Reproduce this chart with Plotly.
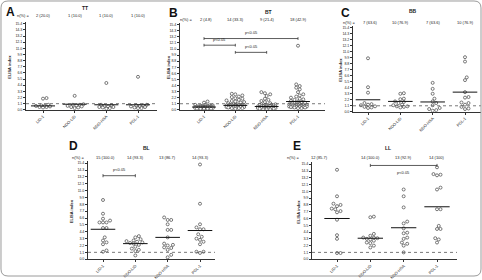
import math
import plotly.graph_objects as go

W, H = 482, 280
categories = ["LID-1", "NDO-LID", "NDO-HSA", "PGL-1"]
y_ticks = [round(1.1 * i, 1) for i in range(15)]
cutoff = 1.1

# ---- data (ELISA index per antigen) ----
tt_vals = [
    [2.1, 2.0, 0.9, 0.8, 0.7, 0.7, 0.6, 0.5, 0.5, 0.4],
    [2.5, 1.0, 0.9, 0.9, 0.8, 0.7, 0.6, 0.5, 0.4, 0.3],
    [4.8, 0.9, 0.8, 0.7, 0.6, 0.5, 0.5, 0.4, 0.3, 0.2],
    [5.9, 0.9, 0.8, 0.8, 0.7, 0.6, 0.5, 0.4, 0.3, 0.3],
]
tt_lines = [0.7, 1.0, 0.9, 0.9]
tt_n = ["2 (20.0)", "1 (10.0)", "1 (10.0)", "1 (10.0)"]

bt_vals = [
    [1.5, 1.3, 0.9, 0.8, 0.8, 0.7, 0.7, 0.7, 0.6, 0.6, 0.6, 0.6, 0.6, 0.5, 0.5, 0.5, 0.5, 0.5, 0.5, 0.5, 0.5,
     0.4, 0.4, 0.4, 0.4, 0.4, 0.4, 0.4, 0.4, 0.4, 0.3, 0.3, 0.3, 0.3, 0.3, 0.3, 0.3, 0.2, 0.2, 0.2, 0.2, 0.2],
    [2.9, 2.8, 2.6, 2.4, 2.3, 2.1, 2.0, 1.8, 1.7, 1.6, 1.5, 1.4, 1.3, 1.2, 1.0, 1.0, 0.9, 0.9, 0.9, 0.8, 0.8,
     0.8, 0.8, 0.7, 0.7, 0.7, 0.7, 0.6, 0.6, 0.6, 0.6, 0.5, 0.5, 0.5, 0.5, 0.4, 0.4, 0.4, 0.3, 0.3, 0.3, 0.2],
    [3.2, 3.0, 2.8, 2.5, 2.0, 1.8, 1.6, 1.4, 1.2, 1.0, 1.0, 0.9, 0.9, 0.8, 0.8, 0.8, 0.7, 0.7, 0.7, 0.6, 0.6,
     0.6, 0.6, 0.5, 0.5, 0.5, 0.5, 0.4, 0.4, 0.4, 0.4, 0.3, 0.3, 0.3, 0.3, 0.2, 0.2, 0.2, 0.2, 0.1, 0.1, 0.1],
    [11.6, 4.6, 4.3, 4.0, 3.7, 3.2, 2.8, 2.6, 2.4, 2.2, 2.0, 1.9, 1.8, 1.6, 1.5, 1.4, 1.3, 1.2, 1.0, 1.0, 0.9,
     0.9, 0.9, 0.8, 0.8, 0.8, 0.7, 0.7, 0.7, 0.7, 0.6, 0.6, 0.6, 0.6, 0.5, 0.5, 0.5, 0.5, 0.4, 0.4, 0.3, 0.3],
]
bt_lines = [0.5, 0.8, 0.6, 1.5]
bt_n = ["2 (4.8)", "14 (33.3)", "9 (21.4)", "18 (42.9)"]

bb_vals = [
    [9.8, 4.5, 3.5, 1.6, 1.4, 1.3, 1.2, 1.0, 0.9, 0.8, 0.7],
    [3.4, 3.3, 2.4, 2.3, 1.9, 1.8, 1.6, 1.3, 1.2, 1.0, 1.0, 0.9, 0.8],
    [5.3, 4.2, 3.3, 2.4, 1.9, 1.6, 1.2, 0.7, 0.5, 0.3, 0.2],
    [10.0, 9.2, 6.3, 5.8, 3.6, 2.7, 2.6, 1.7, 1.6, 1.3, 0.9, 0.6, 0.5],
]
bb_lines = [2.2, 1.9, 1.8, 3.6]
bb_n = ["7 (63.6)", "10 (76.9)", "7 (63.6)", "10 (76.9)"]

bl_vals = [
    [9.5, 7.3, 6.5, 6.2, 5.9, 5.9, 5.9, 5.0, 5.0, 3.5, 3.0, 2.7, 2.4, 1.4, 1.2],
    [3.7, 3.5, 3.2, 3.0, 2.9, 2.8, 2.7, 2.6, 2.5, 2.3, 2.0, 1.7, 1.5, 1.3, 0.6],
    [6.7, 6.3, 6.3, 5.6, 4.7, 4.7, 3.5, 2.5, 2.3, 2.2, 1.9, 1.8, 1.5, 0.7, 0.3],
    [15.2, 8.9, 5.6, 5.1, 4.8, 4.8, 4.0, 3.6, 3.3, 3.1, 2.8, 2.4, 1.2, 1.2, 1.0],
]
bl_lines = [4.8, 2.5, 3.5, 4.6]
bl_n = ["15 (100.0)", "14 (93.3)", "13 (86.7)", "14 (93.3)"]

ll_vals = [
    [14.5, 10.2, 9.0, 8.8, 8.6, 8.2, 8.1, 7.8, 7.6, 6.4, 3.9, 3.3, 1.0, 1.0],
    [6.9, 6.8, 4.1, 3.8, 3.5, 3.5, 3.4, 3.3, 3.2, 3.0, 2.7, 2.6, 2.2, 1.9],
    [11.3, 10.2, 8.4, 6.1, 5.8, 5.0, 4.3, 4.2, 3.5, 3.3, 2.7, 2.5, 2.2, 1.1],
    [14.9, 13.8, 13.7, 13.6, 11.6, 11.3, 8.1, 8.1, 5.4, 4.9, 4.9, 3.4, 3.2, 2.7],
]
ll_lines = [6.6, 3.4, 5.1, 8.5]
ll_n = ["12 (85.7)", "14 (100.0)", "13 (92.9)", "14 (100)"]

# brackets: (from category, to category, y level)
bt_brackets = [(0, 3, 12.9), (0, 1, 11.7), (1, 2, 10.4)]
bl_brackets = [(0, 1, 13.4)]
ll_brackets = [(1, 3, 15.2)]

# ---- layout geometry (pixels) ----
panels = [
    dict(letter="A", title="TT", vals=tt_vals, lines=tt_lines, n=tt_n, br=[],
         xl=26, xr=157, c0=43, c3=138, y0=111, ytop=24, letter_xy=(4, 12), title_xy=(85, 8),
         row_y=16, nlab_x=23, ytitle_x=10, first_shift=0),
    dict(letter="B", title="BT", vals=bt_vals, lines=bt_lines, n=bt_n, br=bt_brackets,
         xl=180, xr=325, c0=204, c3=298, y0=111, ytop=25, letter_xy=(167, 13), title_xy=(268, 12),
         row_y=20, nlab_x=186, ytitle_x=168, first_shift=2),
    dict(letter="C", title="BB", vals=bb_vals, lines=bb_lines, n=bb_n, br=[],
         xl=353, xr=481, c0=368, c3=465, y0=113, ytop=28, letter_xy=(339, 13), title_xy=(413, 11),
         row_y=23, nlab_x=349, ytitle_x=341, first_shift=2),
    dict(letter="D", title="BL", vals=bl_vals, lines=bl_lines, n=bl_n, br=bl_brackets,
         xl=88, xr=215, c0=103, c3=200, y0=262, ytop=165, letter_xy=(67, 148), title_xy=(146, 150),
         row_y=159, nlab_x=78, ytitle_x=71, first_shift=2),
    dict(letter="E", title="LL", vals=ll_vals, lines=ll_lines, n=ll_n, br=ll_brackets,
         xl=312, xr=457, c0=337, c3=437, y0=262, ytop=166, letter_xy=(291, 148), title_xy=(388, 150),
         row_y=159, nlab_x=293, ytitle_x=299, first_shift=-18),
]

YMAX = 15.8
FONT = "Liberation Sans, Arial, sans-serif"


def swarm(vals, ppy, ppx, d=3.2, maxw=10.0):
    order = sorted(range(len(vals)), key=lambda i: vals[i])
    placed = []
    xs = [0.0] * len(vals)
    for i in order:
        y = vals[i] * ppy
        best, bestd = 0.0, -1
        for k in range(0, 60):
            off = ((k + 1) // 2) * (d * 0.55) * (1 if k % 2 else -1)
            if abs(off) > maxw:
                continue
            md = min([math.hypot(off - px, y - py) for px, py in placed] or [99])
            if md >= d:
                best = off
                break
            if md > bestd:
                bestd, best = md, off
        placed.append((best, y))
        xs[i] = best / ppx
    return xs


fig = go.Figure()
shapes = []
annotations = []
layout_axes = {}

for idx, p in enumerate(panels, start=1):
    xa = "x" if idx == 1 else f"x{idx}"
    ya = "y" if idx == 1 else f"y{idx}"
    sp = (p["c3"] - p["c0"]) / 3.0
    xr0 = -(p["c0"] - p["xl"]) / sp
    xr1 = 3 + (p["xr"] - p["c3"]) / sp
    ppy = (p["y0"] - p["ytop"]) / 15.4
    top_px = p["y0"] - ppy * YMAX
    layout_axes["xaxis" if idx == 1 else f"xaxis{idx}"] = dict(
        domain=[p["xl"] / W, p["xr"] / W], anchor=ya, range=[xr0, xr1],
        tickvals=[0, 1, 2, 3], ticktext=categories, tickangle=-45,
        tickfont=dict(size=4, color="#222", family=FONT), ticks="outside", ticklen=2,
        tickwidth=0.6, tickcolor="#333", showline=True, linecolor="#333", linewidth=0.8,
        showgrid=False, zeroline=False, fixedrange=True)
    layout_axes["yaxis" if idx == 1 else f"yaxis{idx}"] = dict(
        domain=[1 - p["y0"] / H, 1 - top_px / H], anchor=xa, range=[0, YMAX],
        tickvals=y_ticks, ticktext=[f"{v:.1f}" for v in y_ticks],
        tickfont=dict(size=3.6, color="#222", family=FONT), ticks="outside", ticklen=2,
        tickwidth=0.6, tickcolor="#333", showline=True, linecolor="#333", linewidth=0.8,
        showgrid=False, zeroline=False, fixedrange=True)

    # points
    for ci, vals in enumerate(p["vals"]):
        offs = swarm(vals, ppy, sp)
        fig.add_trace(go.Scatter(
            x=[ci + o for o in offs], y=vals, mode="markers", xaxis=xa, yaxis=ya,
            marker=dict(symbol="circle", size=3.0, color="white",
                        line=dict(color="#444", width=0.7)),
            showlegend=False, hoverinfo="y"))
        # center line
        shapes.append(dict(type="line", xref=xa, yref=ya, x0=ci - 0.38, x1=ci + 0.38,
                           y0=p["lines"][ci], y1=p["lines"][ci],
                           line=dict(color="#111", width=1)))
        annotations.append(dict(text=p["n"][ci], xref=xa, yref="paper", x=ci,
                                xshift=p["first_shift"] if ci == 0 else 0,
                                y=1 - p["row_y"] / H, showarrow=False,
                                font=dict(size=4.0, color="#222", family=FONT),
                                xanchor="center", yanchor="middle"))
    # cutoff
    shapes.append(dict(type="line", xref=xa, yref=ya, x0=xr0, x1=xr1, y0=cutoff, y1=cutoff,
                       line=dict(color="#555", width=0.8, dash="dot")))
    # brackets
    cap = 0.25
    for a, b, yv in p["br"]:
        shapes.append(dict(type="line", xref=xa, yref=ya, x0=a, x1=b, y0=yv, y1=yv,
                           line=dict(color="#333", width=0.8)))
        for xx in (a, b):
            shapes.append(dict(type="line", xref=xa, yref=ya, x0=xx, x1=xx, y0=yv - cap,
                               y1=yv + cap, line=dict(color="#333", width=0.8)))
        top = yv > 14.5
        annotations.append(dict(text="p<0.05", xref=xa, yref=ya, x=(a + b) / 2,
                                y=yv - 0.4 if top else yv + 0.3, showarrow=False,
                                font=dict(size=4.0, color="#222", family=FONT),
                                xanchor="center", yanchor="top" if top else "bottom"))
    # labels
    lx, ly = p["letter_xy"]
    annotations.append(dict(text=f"<b>{p['letter']}</b>", xref="paper", yref="paper",
                            x=lx / W, y=1 - ly / H, showarrow=False, xanchor="left",
                            yanchor="middle", font=dict(size=12, color="#111", family=FONT)))
    tx, ty = p["title_xy"]
    annotations.append(dict(text=f"<b>{p['title']}</b>", xref="paper", yref="paper",
                            x=tx / W, y=1 - ty / H, showarrow=False, xanchor="center",
                            yanchor="middle", font=dict(size=5, color="#222", family=FONT)))
    annotations.append(dict(text="n(%) =", xref="paper", yref="paper",
                            x=p["nlab_x"] / W, y=1 - p["row_y"] / H, showarrow=False,
                            xanchor="center", yanchor="middle",
                            font=dict(size=4.0, color="#222", family=FONT)))
    annotations.append(dict(text="<b>ELISA index</b>", xref="paper", yref="paper",
                            x=p["ytitle_x"] / W, y=1 - ((p["y0"] + p["ytop"]) / 2) / H,
                            showarrow=False, textangle=-90, xanchor="center", yanchor="middle",
                            font=dict(size=4.0, color="#222", family=FONT)))

# outer rounded border
r = 7
x0, y0b, x1, y1b = 1, 1, 481, 279
def P(x, y):
    return f"{x / W:.5f},{1 - y / H:.5f}"
path = (f"M{P(x0 + r, y0b)} L{P(x1 - r, y0b)} Q{P(x1, y0b)} {P(x1, y0b + r)} "
        f"L{P(x1, y1b - r)} Q{P(x1, y1b)} {P(x1 - r, y1b)} L{P(x0 + r, y1b)} "
        f"Q{P(x0, y1b)} {P(x0, y1b - r)} L{P(x0, y0b + r)} Q{P(x0, y0b)} {P(x0 + r, y0b)} Z")
shapes.append(dict(type="path", xref="paper", yref="paper", path=path,
                   line=dict(color="#9a9a9a", width=1)))

fig.update_layout(width=W, height=H, margin=dict(l=0, r=0, t=0, b=0),
                  paper_bgcolor="white", plot_bgcolor="white",
                  shapes=shapes, annotations=annotations, showlegend=False,
                  font=dict(family=FONT), **layout_axes)
fig.write_html("out.html", config={"displayModeBar": False})
